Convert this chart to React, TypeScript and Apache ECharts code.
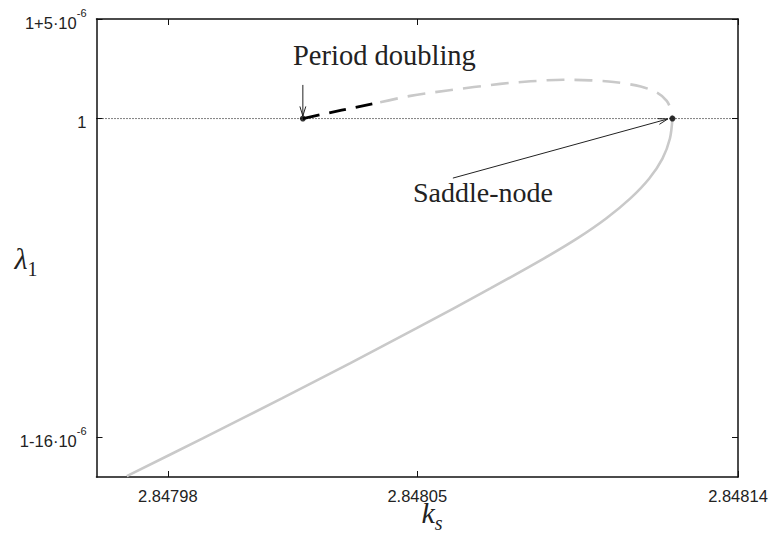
import React, { useEffect, useRef } from "react";
import * as echarts from "echarts";

// k_s values and (λ1 - 1) in units of 1e-6
const lowerBranchKs = [2.8481216, 2.8481209, 2.8481188, 2.8481151, 2.8481098, 2.848103, 2.8480949, 2.8480856, 2.8480705, 2.8480497, 2.8480311, 2.848012, 2.8479898, 2.8479685];
const lowerBranchLambda = [0, -1.0, -2.01, -3.01, -4.01, -5.02, -6.02, -7.02, -8.53, -10.54, -12.29, -14.05, -16.06, -17.96];

const upperGrayKs = [2.8480396, 2.8480481, 2.8480585, 2.8480733, 2.8480818, 2.848091, 2.8480986, 2.8481051, 2.8481127, 2.8481174, 2.84812, 2.8481212, 2.8481216];
const upperGrayLambda = [0.82, 1.14, 1.41, 1.74, 1.87, 1.95, 1.92, 1.84, 1.61, 1.29, 0.89, 0.43, 0];

const unstableKs = [2.8480179, 2.8480288, 2.8480396];
const unstableLambda = [0, 0.42, 0.82];

const bifurcationKs = [2.8480179, 2.8481216];
const bifurcationLambda = [0, 0];

// annotation arrows: [fromKs, fromLambda, toKs, toLambda]
const arrowFromKs = [2.8480179, 2.84806];
const arrowFromLambda = [1.69, -2.99];
const arrowToKs = [2.8480179, 2.8481203];
const arrowToLambda = [0.13, -0.02];

const xMin = 2.84796;
const xMax = 2.84814;
const yMin = -18;
const yMax = 5;
const xTickValues = [2.84798, 2.84805, 2.84814];
const yTickValues = [-16, 0, 5];

const zip = (xs: number[], ys: number[]) => xs.map((x, i) => [x, ys[i]]);

export default function App() {
  const ref = useRef<HTMLDivElement>(null);
  useEffect(() => {
    if (!ref.current) return;
    const chart = echarts.init(ref.current, undefined, { renderer: "svg" });
    const tickFont = "'Liberation Sans', Arial, sans-serif";
    const serif = "'Liberation Serif', 'Times New Roman', serif";
    const frame = { show: true, onZero: false, lineStyle: { color: "#111", width: 1.5 } };
    const tick = (vals: number[]) => ({ show: true, inside: true, length: 6, customValues: vals, lineStyle: { color: "#111", width: 1 } });
    chart.setOption({
      animation: false,
      backgroundColor: "#fff",
      grid: { left: 96.5, top: 19, right: 35, bottom: 57, outerBoundsMode: "none", containLabel: false },
      xAxis: [
        {
          type: "value",
          min: xMin,
          max: xMax,
          position: "bottom",
          axisLine: frame,
          axisTick: tick(xTickValues),
          axisLabel: {
            show: true,
            customValues: xTickValues,
            formatter: (v: number) => v.toFixed(5),
            fontFamily: tickFont,
            fontSize: 16.5,
            color: "#222",
            margin: 10,
          },
          splitLine: { show: false },
        },
        {
          type: "value",
          min: xMin,
          max: xMax,
          position: "top",
          axisLine: frame,
          axisTick: tick(xTickValues),
          axisLabel: { show: false },
          splitLine: { show: false },
        },
      ],
      yAxis: [
        {
          type: "value",
          min: yMin,
          max: yMax,
          position: "left",
          axisLine: frame,
          axisTick: tick(yTickValues),
          axisLabel: {
            show: true,
            customValues: yTickValues,
            margin: 10,
            formatter: (v: number) =>
              v === 0 ? "{b|1}" : `{b|1${v > 0 ? "+" : "-"}${Math.abs(v)}·10}{sup|-6}`,
            rich: {
              b: { fontFamily: tickFont, fontSize: 16.5, color: "#222", lineHeight: 24, verticalAlign: "bottom" },
              sup: { fontFamily: tickFont, fontSize: 11, color: "#222", lineHeight: 24, verticalAlign: "top" },
            },
          },
          splitLine: { show: false },
        },
        {
          type: "value",
          min: yMin,
          max: yMax,
          position: "right",
          axisLine: frame,
          axisTick: tick(yTickValues),
          axisLabel: { show: false },
          splitLine: { show: false },
        },
      ],
      series: [
        {
          type: "line",
          name: "unit",
          data: [[xMin, 0], [xMax, 0]],
          symbol: "none",
          lineStyle: { color: "#000", width: 1, type: [1, 2] },
          z: 1,
        },
        {
          type: "line",
          name: "lower",
          data: zip(lowerBranchKs, lowerBranchLambda),
          symbol: "none",
          smooth: 0.3,
          lineStyle: { color: "#c9c9c9", width: 2.6 },
          z: 2,
        },
        {
          type: "line",
          name: "upper",
          data: zip(upperGrayKs, upperGrayLambda),
          symbol: "none",
          smooth: 0.3,
          lineStyle: { color: "#c9c9c9", width: 2.6, type: [18, 10] },
          z: 2,
        },
        {
          type: "line",
          name: "unstable",
          data: zip(unstableKs, unstableLambda),
          symbol: "none",
          lineStyle: { color: "#000", width: 2.8, type: [17, 10] },
          z: 3,
        },
        {
          type: "custom",
          name: "arrows",
          silent: true,
          data: arrowFromKs.map((x, i) => [x, arrowFromLambda[i], arrowToKs[i], arrowToLambda[i]]),
          encode: { x: [0, 2], y: [1, 3] },
          renderItem: (params: any, api: any) => {
            const p1 = api.coord([api.value(0), api.value(1)]);
            const p2 = api.coord([api.value(2), api.value(3)]);
            const a = Math.atan2(p2[1] - p1[1], p2[0] - p1[0]);
            const L = 10;
            const h = 0.3;
            return {
              type: "group",
              children: [
                { type: "line", shape: { x1: p1[0], y1: p1[1], x2: p2[0], y2: p2[1] }, style: { stroke: "#222", lineWidth: 1 } },
                {
                  type: "polyline",
                  shape: {
                    points: [
                      [p2[0] - L * Math.cos(a - h), p2[1] - L * Math.sin(a - h)],
                      [p2[0], p2[1]],
                      [p2[0] - L * Math.cos(a + h), p2[1] - L * Math.sin(a + h)],
                    ],
                  },
                  style: { stroke: "#222", lineWidth: 1, fill: "none" },
                },
              ],
            };
          },
          z: 4,
        },
        {
          type: "scatter",
          name: "bifurcations",
          data: zip(bifurcationKs, bifurcationLambda),
          symbol: "circle",
          symbolSize: 6,
          itemStyle: { color: "#000" },
          z: 5,
        },
      ],
      graphic: [
        {
          type: "text",
          left: 293,
          top: 41,
          style: { text: "Period doubling", font: "28.5px 'Liberation Serif', serif", fill: "#222" },
        },
        {
          type: "text",
          left: 413,
          top: 178,
          style: { text: "Saddle-node", font: "28px 'Liberation Serif', serif", fill: "#222" },
        },
        {
          type: "text",
          x: 432,
          y: 519,
          style: {
            text: "{k|k}{s|s}",
            align: "center",
            verticalAlign: "middle",
            rich: {
              k: { fontFamily: serif, fontStyle: "italic", fontSize: 30, fill: "#222", lineHeight: 28, verticalAlign: "bottom", padding: [0, 0, 6, 0] },
              s: { fontFamily: serif, fontStyle: "italic", fontSize: 20, fill: "#222", lineHeight: 28, verticalAlign: "bottom" },
            },
          },
        },
        {
          type: "text",
          x: 26,
          y: 262,
          style: {
            text: "{l|λ}{n|1}",
            align: "center",
            verticalAlign: "middle",
            rich: {
              l: { fontFamily: serif, fontStyle: "italic", fontSize: 30, fill: "#222", lineHeight: 34, verticalAlign: "bottom", padding: [0, 0, 6, 0] },
              n: { fontFamily: serif, fontSize: 20, fill: "#222", lineHeight: 34, verticalAlign: "bottom" },
            },
          },
        },
      ],
    });
    return () => chart.dispose();
  }, []);
  return <div ref={ref} style={{ position: "absolute", left: 0, top: 0, width: 773, height: 534 }} />;
}
